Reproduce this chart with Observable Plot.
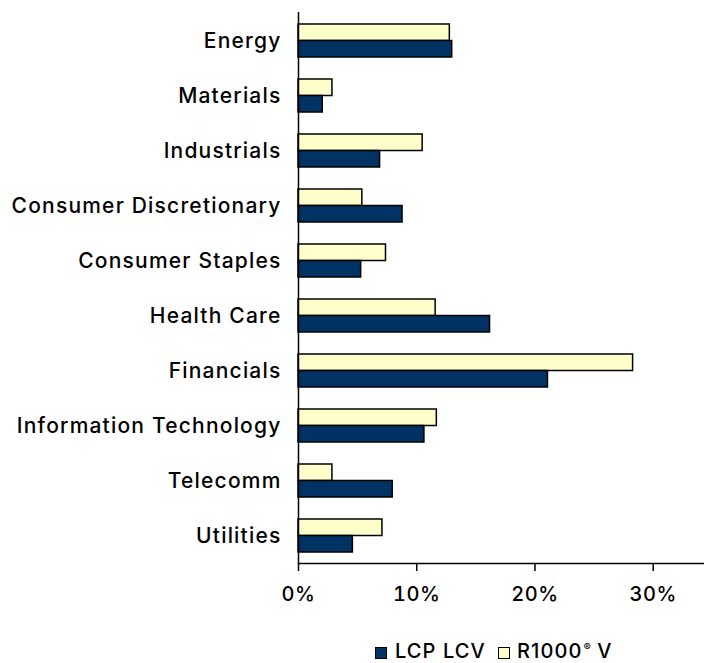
<!DOCTYPE html>
<html>
<head>
<meta charset="utf-8">
<script src="https://cdn.jsdelivr.net/npm/d3@7"></script>
<script src="https://cdn.jsdelivr.net/npm/@observablehq/plot@0.6"></script>
<style>
  html, body { margin: 0; padding: 0; background: #fff; }
  body { width: 704px; height: 663px; overflow: hidden; position: relative; font-family: Inter, sans-serif; }
  #chart svg { display: block; }
  #chart svg g[aria-label="y-axis tick label"] text { letter-spacing: 1.2px; }
  #chart svg g[aria-label="x-axis tick label"] text { letter-spacing: 0.5px; }
  #legend { position: absolute; left: 375px; top: 643px; height: 16px; font-size: 20px; line-height: 16px; font-weight: 500; color: #000; white-space: nowrap; letter-spacing: 1.1px; }
  .item { position: absolute; top: 0; white-space: nowrap; line-height: 16px; }
  .sw { position: absolute; top: 4px; width: 10px; height: 10px; border: 1px solid #000; }
  .reg { font-size: 11px; position: relative; top: -7px; line-height: 0; letter-spacing: 0; margin-left: 1px; }
</style>
</head>
<body>
<div id="chart"></div>
<div id="legend"></div>
<script>
const categories = ["Energy", "Materials", "Industrials", "Consumer Discretionary", "Consumer Staples", "Health Care", "Financials", "Information Technology", "Telecomm", "Utilities"];
const lcpLcv = [13.0, 2.05, 6.9, 8.8, 5.3, 16.2, 21.1, 10.65, 7.97, 4.6];
const r1000V = [12.8, 2.87, 10.5, 5.4, 7.4, 11.6, 28.3, 11.7, 2.87, 7.1];
const seriesNames = ["LCP LCV", "R1000\u00AE V"];
const seriesColors = ["#003263", "#FFFFCC"];
const xTicks = [0, 10, 20, 30];

const rows = categories.map((c, i) => ({category: c, lcp: lcpLcv[i], r1000: r1000V[i]}));

const W = 704, H = 622;
const xFont = {fontFamily: "Inter, sans-serif", fontSize: 20, fontWeight: 500};
const yFont = {fontFamily: "Inter, sans-serif", fontSize: 21, fontWeight: 500};
const plot = Plot.plot({
  width: W,
  height: H,
  marginTop: 12,
  marginBottom: H - 563,
  marginLeft: 298,
  marginRight: 0,
  style: {fontFamily: "Inter, sans-serif", fontSize: "20px", fontWeight: 500, color: "#000", background: "#fff"},
  x: {domain: [0, 34.34], label: null},
  y: {domain: categories, paddingInner: 0.4, paddingOuter: 0.2, label: null},
  marks: [
    Plot.barX(rows, {y: "category", x: "r1000", fill: seriesColors[1], stroke: "#000", strokeWidth: 1.5, insetBottom: 16.5}),
    Plot.barX(rows, {y: "category", x: "lcp", fill: seriesColors[0], stroke: "#000", strokeWidth: 1.5, insetTop: 16.5}),
    Plot.ruleX([0], {stroke: "#000", strokeWidth: 1.5}),
    Plot.frame({anchor: "bottom", stroke: "#000", strokeWidth: 1.5}),
    Plot.axisX({ticks: xTicks, tickFormat: d => d + "%", tickSize: 8, tickPadding: 15, stroke: "#000", strokeWidth: 1.5, fill: "#000", ...xFont}),
    Plot.axisY({tickSize: 0, tickPadding: 17, fill: "#000", ...yFont})
  ]
});
document.getElementById("chart").appendChild(plot);

const legend = document.getElementById("legend");
const swatchX = [0, 123];
const textX = [20, 142];
seriesNames.forEach((name, i) => {
  const sw = document.createElement("span");
  sw.className = "sw";
  sw.style.left = swatchX[i] + "px";
  sw.style.background = seriesColors[i];
  legend.appendChild(sw);
  const t = document.createElement("span");
  t.className = "item";
  t.style.left = textX[i] + "px";
  const parts = name.split("\u00AE");
  t.appendChild(document.createTextNode(parts[0]));
  if (parts.length > 1) {
    const r = document.createElement("span");
    r.className = "reg";
    r.textContent = "\u00AE";
    t.appendChild(r);
    t.appendChild(document.createTextNode(parts[1]));
  }
  legend.appendChild(t);
});
</script>
</body>
</html>
